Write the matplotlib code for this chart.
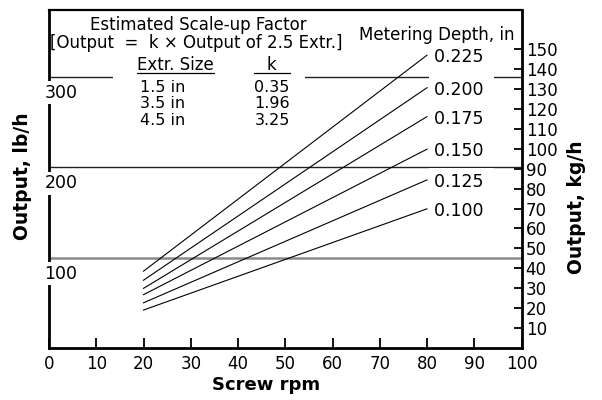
import matplotlib
matplotlib.use('Agg')
import matplotlib.pyplot as plt
from matplotlib.patches import Rectangle
from matplotlib.lines import Line2D

# data
rpm = [20, 80]
depths = ['0.225', '0.200', '0.175', '0.150', '0.125', '0.100']
out_at_20 = [85, 75, 66, 59, 50, 42]      # lb/h at 20 rpm
out_at_80 = [324, 288, 256, 220, 186, 154]  # lb/h at 80 rpm

lb_grid = [100, 200, 300]
kg_ticks = list(range(10, 160, 10))
x_ticks = list(range(0, 110, 10))

extr_sizes = ['1.5 in', '3.5 in', '4.5 in']
k_values = ['0.35', '1.96', '3.25']

LB_TO_KG = 0.4536
ymax = 374

plt.rcParams['font.family'] = 'DejaVu Sans'

fig = plt.figure(figsize=(6.02, 4.00), dpi=100)
ax = fig.add_axes([49 / 602, 52 / 400, 472.5 / 602, 338 / 400])
ax.set_xlim(0, 100)
ax.set_ylim(0, ymax)

# spines
for s in ['left', 'bottom']:
    ax.spines[s].set_linewidth(2.0)
ax.spines['top'].set_linewidth(1.6)
ax.spines['right'].set_visible(False)

ax.set_xticks(x_ticks)
ax.tick_params(axis='x', direction='in', length=7, width=1.3, labelsize=12, pad=5)
ax.set_yticks([])

# horizontal lines
for v in lb_grid:
    if v == 100:
        ax.axhline(v, color='#8a8a8a', lw=1.8, zorder=1)
    else:
        ax.axhline(v, color='#222222', lw=1.0, zorder=1)

# left labels sit just below each line, breaking the spine
for v in lb_grid:
    ax.annotate(str(v), xy=(0, v), xytext=(8.6, -11.5), textcoords='offset points',
                ha='center', va='center', fontsize=12.5, zorder=5,
                bbox=dict(boxstyle='square,pad=0.15', fc='white', ec='none'))

# operating lines
for d, y0, y1 in zip(depths, out_at_20, out_at_80):
    ax.plot(rpm, [y0, y1], color='black', lw=0.8, zorder=2)
    ax.annotate(d + ' ', xy=(rpm[1], y1), xytext=(5, -1.5), textcoords='offset points',
                ha='left', va='center', fontsize=12.5, zorder=4,
                bbox=dict(boxstyle='square,pad=0.3', fc='white', ec='none'))

ax.text(82.1, 346.6, 'Metering Depth, in', ha='center', va='center', fontsize=12)

# scale-up table
ax.add_patch(Rectangle((13.6, 282), 40.6, 40, fc='white', ec='none', zorder=1.5))
ax.text(31.6, 357.7, 'Estimated Scale-up Factor', ha='center', va='center', fontsize=12)
ax.text(31.1, 337.8, '[Output  =  k \u00d7 Output of 2.5 Extr.]', ha='center', va='center',
        fontsize=12)
hdr1 = ax.text(26.7, 313.4, 'Extr. Size', ha='center', va='center', fontsize=12, zorder=3)
hdr2 = ax.text(47.0, 313.4, 'k', ha='center', va='center', fontsize=12, zorder=3)
row_y = [288.5, 270.2, 252]
col1 = []
col2 = []
for s, k, y in zip(extr_sizes, k_values, row_y):
    col1.append(ax.text(24.0, y, s, ha='center', va='center', fontsize=11.5, zorder=3))
    col2.append(ax.text(47.2, y, k, ha='center', va='center', fontsize=11.5, zorder=3))

# underline headers
fig.canvas.draw()
r = fig.canvas.get_renderer()
for hdr, col in [(hdr1, [hdr1]), (hdr2, col2)]:
    hb = hdr.get_window_extent(r)
    x0 = min(t.get_window_extent(r).x0 for t in col)
    x1 = max(t.get_window_extent(r).x1 for t in col)
    yline = hb.y0 + 1
    fig.add_artist(Line2D([x0 / fig.dpi / fig.get_figwidth(), x1 / fig.dpi / fig.get_figwidth()],
                          [yline / fig.dpi / fig.get_figheight()] * 2,
                          color='black', lw=0.9))

# right axis in kg/h
ax2 = ax.twinx()
ax2.set_ylim(0, ymax * LB_TO_KG)
ax2.set_yticks(kg_ticks)
ax2.tick_params(axis='y', direction='in', length=6, width=1.3, labelsize=12, pad=3)
for s in ['left', 'top', 'bottom']:
    ax2.spines[s].set_visible(False)
ax2.spines['right'].set_linewidth(2.0)

# axis titles
fig.text(266 / 602, 1 - 385 / 400, 'Screw rpm', ha='center', va='center',
         fontsize=13, fontweight='bold')
fig.text(23 / 602, 1 - 176 / 400, 'Output, lb/h', ha='center', va='center',
         rotation=90, fontsize=13.5, fontweight='bold')
fig.text(577 / 602, 1 - 207 / 400, 'Output, kg/h', ha='center', va='center',
         rotation=90, fontsize=13.5, fontweight='bold')

fig.savefig('out.png', dpi=100)
